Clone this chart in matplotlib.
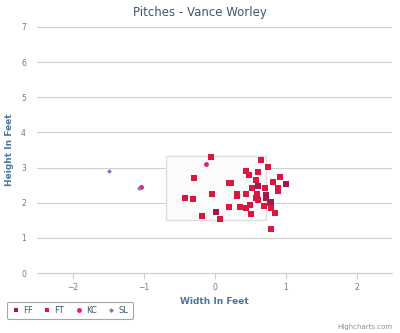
import matplotlib
matplotlib.use("Agg")
import matplotlib.pyplot as plt
from matplotlib.patches import Rectangle
from matplotlib.lines import Line2D

# pitch locations (feet)
ff_x = [0.61, 1.00, 0.72, 0.73, 0.02, 0.80]
ff_y = [2.48, 2.53, 2.21, 2.13, 1.73, 2.02]

ft_x = [-0.05, 0.66, 0.75, -0.29, 0.44, 0.48, 0.61, 0.92, 0.83, 0.58,
        0.21, 0.23, 0.53, 0.71, 0.89, 0.90, -0.03, 0.31, 0.31, 0.44,
        0.60, -0.42, -0.30, 0.59, 0.61, 0.78, 0.20, 0.36, 0.44, 0.50,
        0.70, 0.80, 0.52, 0.85, -0.18, 0.08, 0.79]
ft_y = [3.30, 3.22, 3.01, 2.71, 2.91, 2.80, 2.88, 2.73, 2.58, 2.64,
        2.56, 2.56, 2.43, 2.41, 2.41, 2.32, 2.26, 2.24, 2.19, 2.26,
        2.24, 2.14, 2.10, 2.13, 2.08, 1.99, 1.89, 1.89, 1.85, 1.94,
        1.90, 1.84, 1.68, 1.70, 1.63, 1.55, 1.25]

kc_x = [-0.12, -1.03]
kc_y = [3.10, 2.45]

sl_x = [-1.49, -1.06]
sl_y = [2.90, 2.41]

zone_x = [-0.68, 0.72]
zone_y = [1.52, 3.32]

c_ff = '#a8174a'
c_ft = '#d9173f'
c_kc = '#ec1483'
c_sl = '#8a6fc4'
title_c = '#3e576f'
label_c = '#4d759e'
tick_c = '#777777'

fig = plt.figure(figsize=(4.0, 3.33), dpi=100)
ax = fig.add_axes([0.0925, 0.18, 0.8875, 0.739])

ax.add_patch(Rectangle((zone_x[0], zone_y[0]), zone_x[1] - zone_x[0], zone_y[1] - zone_y[0],
                       facecolor='#fbfbfb', edgecolor='#dddddd', lw=1, zorder=1))

ax.scatter(ft_x, ft_y, marker='s', s=14, color=c_ft, linewidths=0, zorder=3)
ax.scatter(ff_x, ff_y, marker='s', s=14, color=c_ff, linewidths=0, zorder=3)
ax.scatter(kc_x, kc_y, marker='o', s=12, color=c_kc, linewidths=0, zorder=4)
ax.scatter(sl_x, sl_y, marker='D', s=6, color=c_sl, linewidths=0, zorder=4)

ax.set_xlim(-2.5, 2.5)
ax.set_ylim(0, 7)
ax.set_xticks([-2, -1, 0, 1, 2])
ax.set_yticks(range(0, 8))
ax.yaxis.grid(True, color='#d0d0d0', lw=0.8)
ax.set_axisbelow(True)
for s in ['top', 'right', 'left']:
    ax.spines[s].set_visible(False)
ax.spines['bottom'].set_color('#c0d0e0')
ax.tick_params(axis='x', colors='#c0d0e0', labelcolor=tick_c, labelsize=5.5, length=4, width=0.8)
ax.tick_params(axis='y', length=0, labelcolor=tick_c, labelsize=5.5, pad=8)

ax.set_xlabel('Width In Feet', color=label_c, fontsize=6.5, fontweight='bold', labelpad=3)
ax.set_ylabel('Height In Feet', color=label_c, fontsize=6.5, fontweight='bold', labelpad=5)
fig.text(0.5, 0.962, 'Pitches - Vance Worley', ha='center', va='center',
         color=title_c, fontsize=8.5)

handles = [Line2D([], [], ls='', marker='s', ms=3.5, color=c_ff, mew=0),
           Line2D([], [], ls='', marker='s', ms=3.5, color=c_ft, mew=0),
           Line2D([], [], ls='', marker='o', ms=3.5, color=c_kc, mew=0),
           Line2D([], [], ls='', marker='D', ms=2.5, color=c_sl, mew=0)]
leg = fig.legend(handles, ['FF', 'FT', 'KC', 'SL'], loc='lower left',
                 bbox_to_anchor=(0.008, 0.03), ncol=4, fontsize=6,
                 frameon=True, fancybox=True, handlelength=1.0, handletextpad=0.4,
                 columnspacing=1.2, borderpad=0.5)
leg.get_frame().set_edgecolor('#909090')
leg.get_frame().set_linewidth(0.8)
for t in leg.get_texts():
    t.set_color(title_c)

fig.text(0.98, 0.018, 'Highcharts.com', ha='right', va='center', color='#909090', fontsize=5)

fig.savefig('out.png', dpi=100, facecolor='white')
